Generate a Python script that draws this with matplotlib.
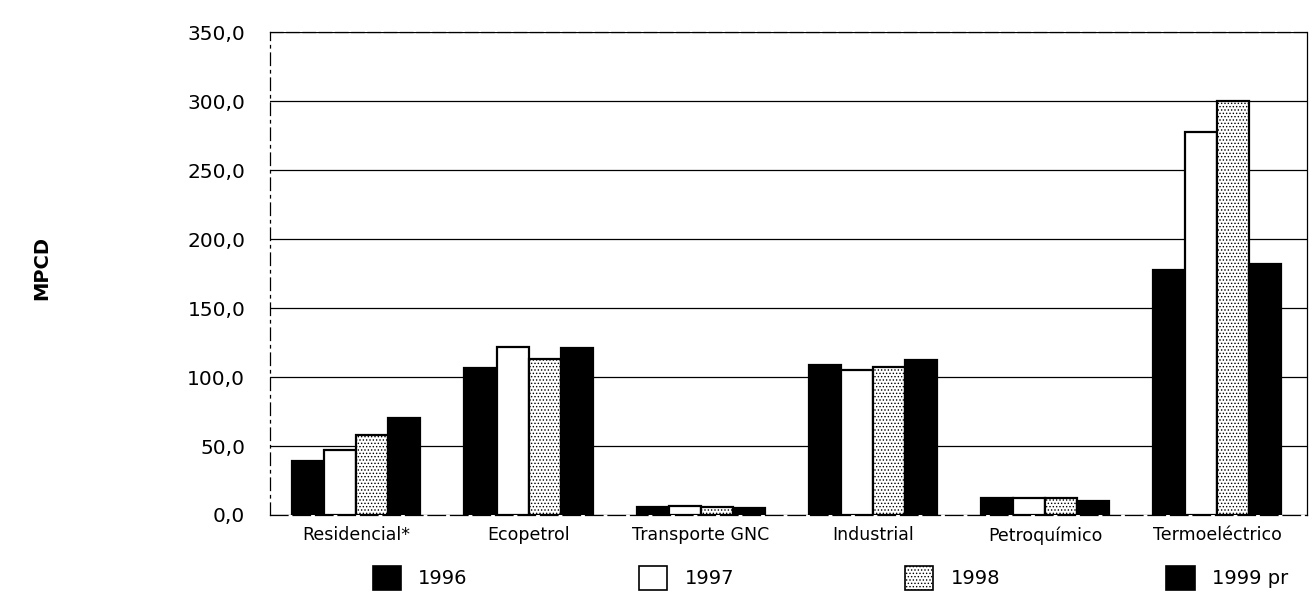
import matplotlib
matplotlib.use("Agg")
import matplotlib.pyplot as plt
from matplotlib.patches import Patch
from matplotlib.ticker import FuncFormatter
import numpy as np

plt.rcParams['font.family'] = ['DejaVu Sans']
plt.rcParams['hatch.linewidth'] = 0.6
plt.rcParams['hatch.color'] = '#555555'

# datos (MPCD)
sectores = ['Residencial*', 'Ecopetrol', 'Transporte GNC', 'Industrial',
            'Petroquímico', 'Termoeléctrico']
anios = ['1996', '1997', '1998', '1999 pr']
v1996 = [39.0, 106.5, 6.0, 109.0, 12.0, 177.5]
v1997 = [47.0, 122.0, 6.5, 105.0, 12.0, 277.5]
v1998 = [58.0, 113.0, 6.0, 107.0, 12.0, 300.0]
v1999 = [70.0, 121.0, 5.0, 112.0, 10.0, 182.0]
series = [v1996, v1997, v1998, v1999]

fig = plt.figure(figsize=(13.12, 5.94), dpi=100)
ax = fig.add_axes([0.206, 0.133, 0.79, 0.813])

estilos = [
    dict(facecolor='black', hatch=None),
    dict(facecolor='white', hatch=None),
    dict(facecolor='white', hatch='.....'),
    dict(facecolor='black', hatch=None),
]

x = np.arange(len(sectores))
w = 0.186
for i, vals in enumerate(series):
    ax.bar(x + (i - 1.5) * w, vals, width=w, edgecolor='black', linewidth=1.6,
           zorder=3, **estilos[i])

ax.set_xlim(-0.5, 5.52)
ax.set_ylim(0, 350)
ax.set_yticks(np.arange(0, 351, 50))
ax.yaxis.set_major_formatter(FuncFormatter(lambda v, p: f'{v:.1f}'.replace('.', ',')))
ax.yaxis.grid(True, color='black', linewidth=0.9, zorder=0)
ax.set_axisbelow(True)

ax.set_xticks(x)
ax.set_xticklabels(sectores, fontsize=12.5)
ax.tick_params(axis='x', length=0, pad=8)
ax.tick_params(axis='y', length=0, pad=18, labelsize=14.5)

ax.spines['left'].set_linestyle((0, (10, 4, 2, 4)))
ax.spines['left'].set_linewidth(0.9)
ax.spines['bottom'].set_linestyle((0, (14, 4)))
ax.spines['bottom'].set_linewidth(0.9)
ax.spines['top'].set_linestyle((0, (10, 3)))
ax.spines['top'].set_linewidth(0.9)
ax.spines['right'].set_linewidth(0.9)

fig.text(0.032, 0.549, 'MPCD', rotation=90, fontsize=14, fontweight='bold',
         ha='center', va='center')

# leyenda
pos_ley = [0.284, 0.487, 0.690, 0.889]
for i, a in enumerate(anios):
    h = Patch(facecolor=estilos[i]['facecolor'], hatch=estilos[i]['hatch'],
              edgecolor='black', linewidth=1.2)
    fig.legend(handles=[h], labels=[a], loc='center left',
               bbox_to_anchor=(pos_ley[i], 0.027), frameon=False,
               fontsize=14, handlelength=1.45, handleheight=1.45,
               handletextpad=0.9, borderaxespad=0, borderpad=0)

fig.savefig('out.png', dpi=100)
